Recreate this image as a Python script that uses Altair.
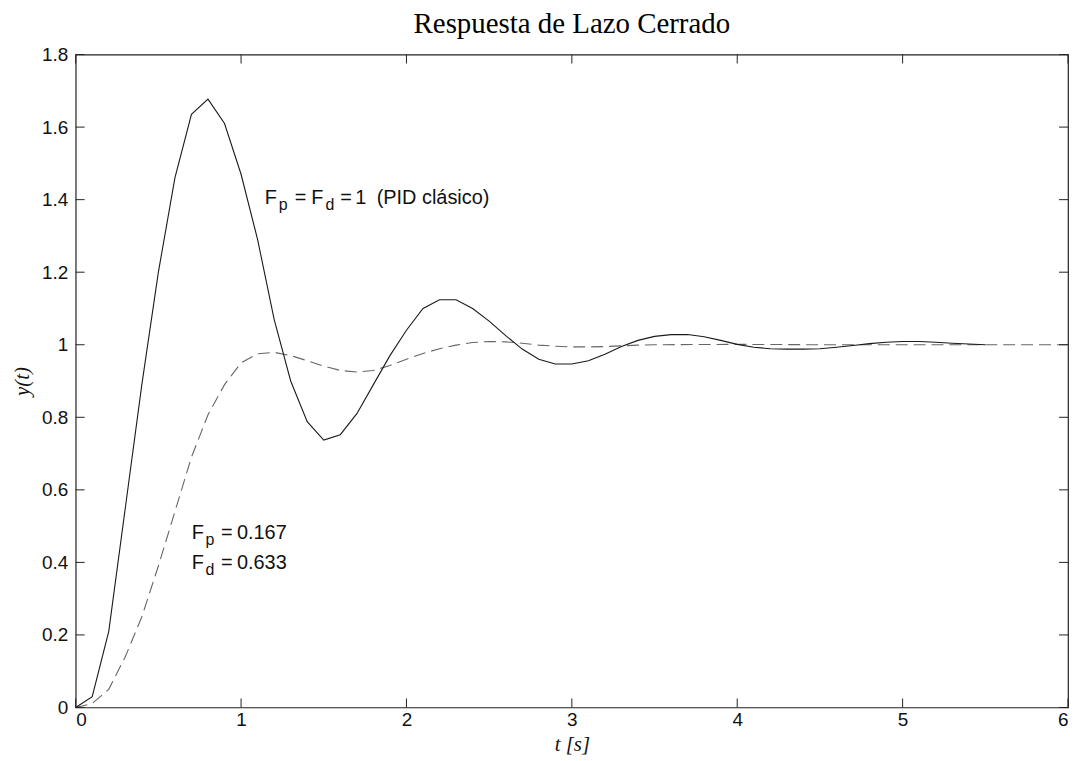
import altair as alt
import pandas as pd

# ---- data ----
t_solid = [0.0, 0.1, 0.2, 0.3, 0.4, 0.5, 0.6, 0.7, 0.8, 0.9,
           1.0, 1.1, 1.2, 1.3, 1.4, 1.5, 1.6, 1.7, 1.8, 1.9,
           2.0, 2.1, 2.2, 2.3, 2.4, 2.5, 2.6, 2.7, 2.8, 2.9,
           3.0, 3.1, 3.2, 3.3, 3.4, 3.5, 3.6, 3.7, 3.8, 3.9,
           4.0, 4.1, 4.2, 4.3, 4.4, 4.5, 4.6, 4.7, 4.8, 4.9,
           5.0, 5.1, 5.2, 5.3, 5.4, 5.5]
y_solid = [0.0, 0.03, 0.21, 0.55, 0.89, 1.20, 1.46, 1.635, 1.677, 1.61,
           1.47, 1.29, 1.07, 0.90, 0.788, 0.737, 0.752, 0.81, 0.89, 0.97,
           1.04, 1.10, 1.124, 1.124, 1.10, 1.065, 1.025, 0.988, 0.96, 0.947,
           0.947, 0.956, 0.974, 0.995, 1.012, 1.023, 1.028, 1.028, 1.022, 1.012,
           1.001, 0.993, 0.989, 0.988, 0.988, 0.989, 0.993, 0.998, 1.003, 1.007,
           1.009, 1.009, 1.007, 1.004, 1.002, 1.0]

t_dash = [0.0, 0.1, 0.2, 0.3, 0.4, 0.5, 0.6, 0.7, 0.8, 0.9,
          1.0, 1.1, 1.2, 1.3, 1.4, 1.5, 1.6, 1.7, 1.8, 1.9,
          2.0, 2.1, 2.2, 2.3, 2.4, 2.5, 2.6, 2.7, 2.8, 2.9,
          3.0, 3.1, 3.2, 3.3, 3.4, 3.5, 4.0, 4.5, 5.0, 5.5, 6.0]
y_dash = [0.0, 0.011, 0.05, 0.14, 0.25, 0.39, 0.54, 0.69, 0.807, 0.89,
          0.95, 0.975, 0.979, 0.97, 0.956, 0.941, 0.929, 0.925, 0.929, 0.943,
          0.96, 0.976, 0.989, 0.999, 1.006, 1.009, 1.008, 1.004, 0.999, 0.996,
          0.994, 0.994, 0.995, 0.997, 0.999, 1.0, 1.001, 1.0, 1.0, 1.0, 1.0]

x_ticks = [0, 1, 2, 3, 4, 5, 6]
y_ticks = [0, 0.2, 0.4, 0.6, 0.8, 1.0, 1.2, 1.4, 1.6, 1.8]

# annotation pieces (text, t, y)
main_txt = ["F", "=", "F", "=", "1", "(PID clásico)",
            "F", "=", "0.167", "F", "=", "0.633"]
main_t = [1.143, 1.325, 1.425, 1.600, 1.690, 1.820,
          0.702, 0.878, 0.975, 0.702, 0.878, 0.975]
main_y = [1.388, 1.388, 1.388, 1.388, 1.388, 1.388,
          0.4637, 0.4637, 0.4637, 0.3814, 0.3814, 0.3814]
sub_txt = ["p", "d", "p", "d"]
sub_t = [1.228, 1.510, 0.785, 0.785]
sub_y = [1.372, 1.372, 0.4473, 0.365]

W, H = 997, 656

df_s = pd.DataFrame({"t": t_solid, "y": y_solid})
df_d = pd.DataFrame({"t": t_dash, "y": y_dash})
df_xt = pd.DataFrame({"t": x_ticks})
df_yt = pd.DataFrame({"y": y_ticks})
df_main = pd.DataFrame({"t": main_t, "y": main_y, "txt": main_txt})
df_sub = pd.DataFrame({"t": sub_t, "y": sub_y, "txt": sub_txt})

x_scale = alt.Scale(domain=[0, 6], nice=False, zero=False)
y_scale = alt.Scale(domain=[0, 1.8], nice=False, zero=False)

x_axis = alt.Axis(values=x_ticks, title="t [s]", format="d",
                  labelPadding=3, titlePadding=4)
y_axis = alt.Axis(values=y_ticks, title="y(t)", format=".1~f",
                  labelPadding=8, titlePadding=9)


def X():
    return alt.X("t:Q", scale=x_scale, axis=x_axis)


def Y():
    return alt.Y("y:Q", scale=y_scale, axis=y_axis)


solid = alt.Chart(df_s).mark_line(color="#1a1a1a", strokeWidth=1.1).encode(x=X(), y=Y())
dashed = alt.Chart(df_d).mark_line(color="#666666", strokeWidth=1.1,
                                   strokeDash=[12, 6]).encode(x=X(), y=Y())

tick_len = 9
bot_ticks = alt.Chart(df_xt).mark_rule(color="#222", strokeWidth=1).encode(
    x=X(), y=alt.value(H), y2=alt.value(H - tick_len))
top_ticks = alt.Chart(df_xt).mark_rule(color="#222", strokeWidth=1).encode(
    x=X(), y=alt.value(0), y2=alt.value(tick_len))
left_ticks = alt.Chart(df_yt).mark_rule(color="#222", strokeWidth=1).encode(
    y=Y(), x=alt.value(0), x2=alt.value(tick_len))
right_ticks = alt.Chart(df_yt).mark_rule(color="#222", strokeWidth=1).encode(
    y=Y(), x=alt.value(W - tick_len), x2=alt.value(W))

main_text = alt.Chart(df_main).mark_text(
    align="left", baseline="alphabetic", font="Liberation Sans",
    fontSize=20, color="#111").encode(x=X(), y=Y(), text="txt:N")
sub_text = alt.Chart(df_sub).mark_text(
    align="left", baseline="alphabetic", font="Liberation Sans",
    fontSize=16, color="#111").encode(x=X(), y=Y(), text="txt:N")

chart = alt.layer(
    dashed, solid, bot_ticks, top_ticks, left_ticks, right_ticks, main_text, sub_text
).properties(
    width=W, height=H,
    title=alt.TitleParams("Respuesta de Lazo Cerrado", font="Liberation Serif",
                          fontSize=29, fontWeight="normal", anchor="middle",
                          color="black", offset=7),
    padding={"left": 68, "top": 45, "right": 2, "bottom": 50},
    autosize=alt.AutoSizeParams(type="none"),
).configure_view(
    stroke="#222", strokeWidth=1.2
).configure_axis(
    domain=False, ticks=False, grid=False,
    labelFont="Liberation Sans", labelFontSize=19, labelColor="#111",
    titleFont="Liberation Serif", titleFontSize=21, titleFontStyle="italic",
    titleFontWeight="normal", titleColor="#111"
)

chart.save("out.html", embed_options={"renderer": "svg", "actions": False})
